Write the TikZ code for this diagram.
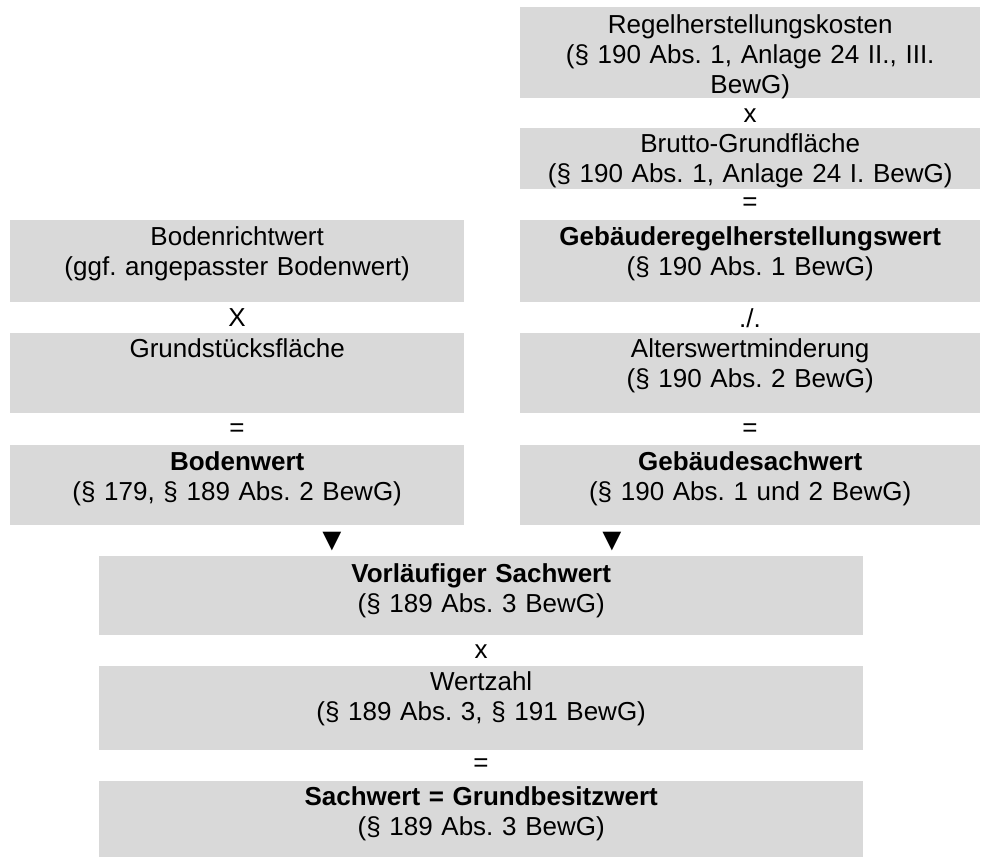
\documentclass[tikz,border=0pt]{standalone}
\usepackage{fontspec}
\setmainfont{Liberation Sans}
\usetikzlibrary{positioning}
\definecolor{boxgray}{RGB}{217,217,217}
\frenchspacing

\begin{document}
\begin{tikzpicture}[
			x=1pt,y=-1pt,
			calcbox/.style={
				fill=boxgray,
				inner sep=0pt,
				anchor=north west,
				align=center,
				text height=25pt,
				font=\fontsize{26}{30}\selectfont
			},
			rightbox/.style={calcbox,text width=460pt},
			leftbox/.style={calcbox,text width=454pt},
			bottombox/.style={calcbox,text width=764pt},
			op/.style={inner sep=0pt,font=\fontsize{26}{30}\selectfont},
			marker/.style={inner sep=0pt,font=\fontsize{32}{32}\selectfont}
			]
			\useasboundingbox (0,0) rectangle (982,857);
			
			% right column: building value
			\node[rightbox,text height=26pt,text depth=65pt] (regel) at (520,7)
			{Regelherstellungskosten\\(§ 190 Abs. 1, Anlage 24 II., III.\\BewG)};
			\node[op] (opx1) at (750,116) {x};
			\node[rightbox,text height=24pt,text depth=37pt] (brutto) at (520,128)
			{Brutto-Grundfläche\\(§ 190 Abs. 1, Anlage 24 I. BewG)};
			\node[op] (opeq1) at (750,204) {=};
			\node[rightbox,text depth=57pt] (gebregel) at (520,220)
			{\textbf{Gebäuderegelherstellungswert}\\(§ 190 Abs. 1 BewG)};
			\node[op] (opminus) at (750,318) {./.};
			\node[rightbox,text height=24pt,text depth=56pt] (alter) at (520,333)
			{Alterswertminderung\\(§ 190 Abs. 2 BewG)};
			\node[op] (opeq2) at (750,430) {=};
			\node[rightbox,text depth=55pt] (gebsach) at (520,445)
			{\textbf{Gebäudesachwert}\\(§ 190 Abs. 1 und 2 BewG)};
			
			% left column: land value
			\node[leftbox,text depth=57pt] (richtwert) at (10,220)
			{Bodenrichtwert\\(ggf. angepasster Bodenwert)};
			\node[op] (opx2) at (237,318) {X};
			\node[leftbox,text height=24pt,text depth=56pt] (flaeche) at (10,333)
			{Grundstücksfläche};
			\node[op] (opeq3) at (237,430) {=};
			\node[leftbox,text depth=55pt] (boden) at (10,445)
			{\textbf{Bodenwert}\\(§ 179, § 189 Abs. 2 BewG)};
			
			\node[marker] (mark1) at (332,542) {▼};
			\node[marker] (mark2) at (612,542) {▼};
			
			% bottom: total
			\node[bottombox,text height=26pt,text depth=53pt] (vorl) at (99,556)
			{\textbf{Vorläufiger Sachwert}\\(§ 189 Abs. 3 BewG)};
			\node[op] (opx3) at (481,652) {x};
			\node[bottombox,text height=24pt,text depth=60pt] (wertzahl) at (99,666)
			{Wertzahl\\(§ 189 Abs. 3, § 191 BewG)};
			\node[op] (opeq4) at (481,765) {=};
			\node[bottombox,text height=24pt,text depth=52pt] (sachwert) at (99,781)
			{\textbf{Sachwert = Grundbesitzwert}\\(§ 189 Abs. 3 BewG)};
			
		\end{tikzpicture}
\end{document}
